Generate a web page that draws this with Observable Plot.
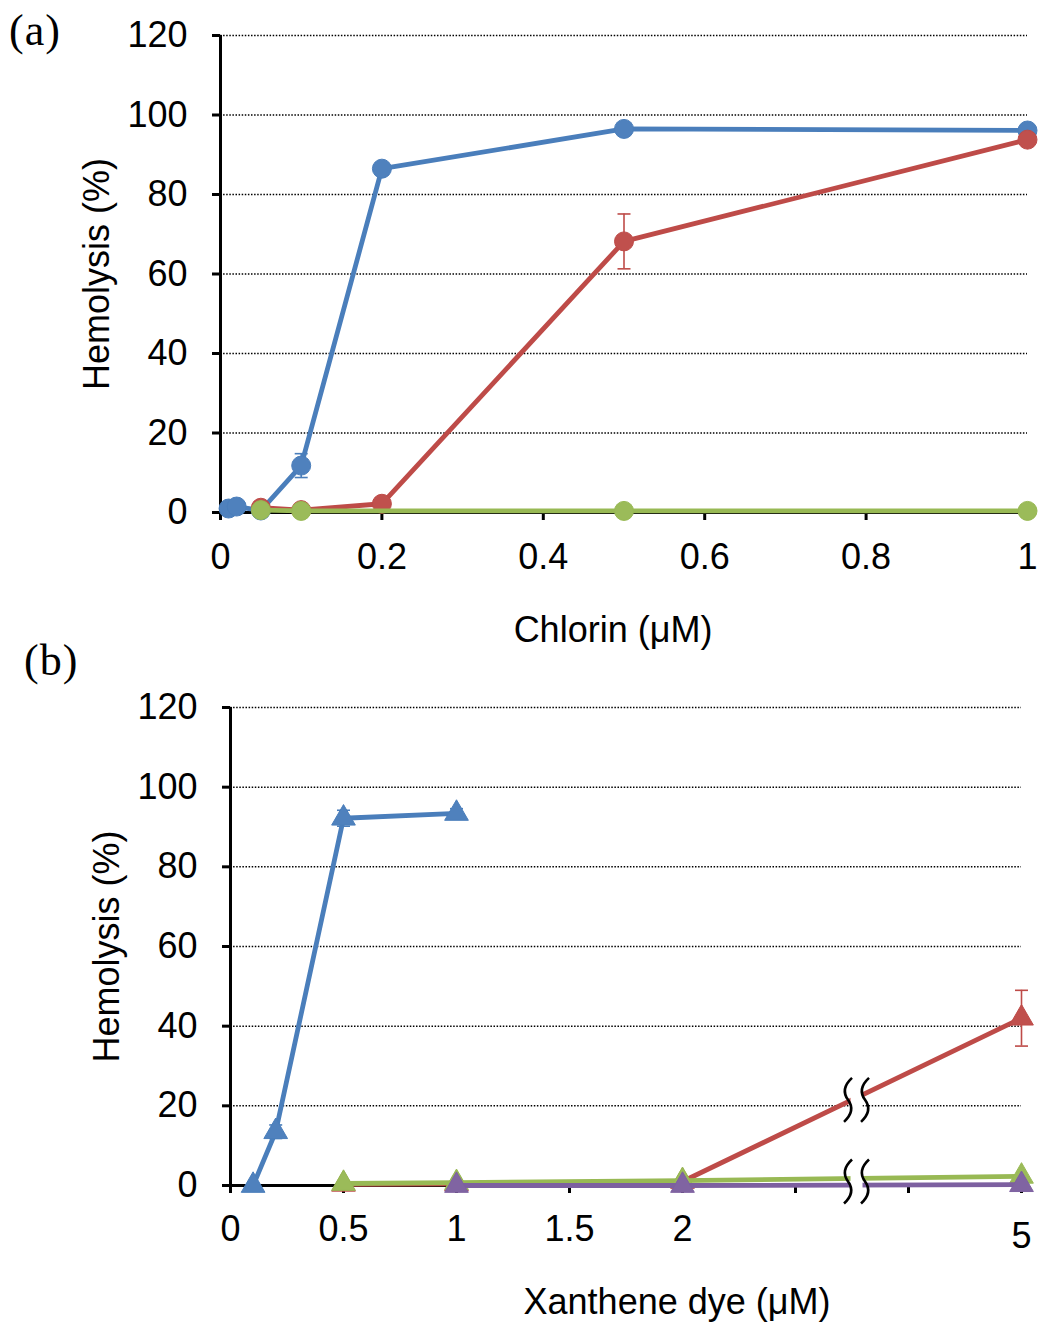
<!DOCTYPE html>
<html>
<head>
<meta charset="utf-8">
<script src="https://cdn.jsdelivr.net/npm/d3@7"></script>
<script src="https://cdn.jsdelivr.net/npm/@observablehq/plot@0.6"></script>
<style>
  body { margin: 0; background: #fff; }
  #wrap { position: relative; width: 1038px; height: 1324px; background: #fff; }
  .panel { position: absolute; left: 0; }
  .tag { position: absolute; font-family: "Liberation Serif", "DejaVu Serif", serif; font-size: 44px; line-height: 1; color: #000; letter-spacing: 1px; }
</style>
</head>
<body>
<div id="wrap">
  <div class="tag" style="left:9px; top:9px;">(a)</div>
  <div class="tag" style="left:24px; top:639px;">(b)</div>
  <div class="panel" id="pa" style="top:0px;"></div>
  <div class="panel" id="pb" style="top:655px;"></div>
</div>
<script>
// ---------- Panel (a): Chlorin ----------
const yTicks = [0, 20, 40, 60, 80, 100, 120];
const xTicksA = [0, 0.2, 0.4, 0.6, 0.8, 1];

const a_blue_x = [0.01, 0.02, 0.05, 0.1, 0.2, 0.5, 1];
const a_blue_y = [1.0, 1.5, 0.5, 11.8, 86.5, 96.5, 96.1];
const a_blue_e = [0, 0, 0, 3.0, 1.0, 0.8, 0.5];

const a_red_x = [0.05, 0.1, 0.2, 0.5, 1];
const a_red_y = [1.2, 0.6, 2.2, 68.2, 93.8];
const a_red_e = [0, 0, 0, 6.9, 0.8];

const a_green_x = [0.05, 0.1, 0.5, 1];
const a_green_y = [0.6, 0.4, 0.4, 0.4];
const a_green_e = [0, 0, 0, 0];

// ---------- Panel (b): Xanthene dye ----------
const xTicksB = [0, 0.5, 1, 1.5, 2, 2.5, 3, 3.5];      // axis positions (broken axis)
const xTickLabelsB = ["0", "0.5", "1", "1.5", "2", "", "", ""];
const lastDose = 5;                                   // dose drawn at the final tick
const lastDoseLabel = "5";

const b_blue_x = [0.1, 0.2, 0.5, 1];
const b_blue_y = [0, 13.5, 92.2, 93.4];
const b_blue_e = [0, 1.7, 2.0, 1.2];

const b_red_x = [0.5, 1, 2, 5];
const b_red_y = [0.3, 0.4, 1.0, 42];
const b_red_e = [0, 0, 0, 7];

const b_green_x = [0.5, 1, 2, 5];
const b_green_y = [0.5, 0.7, 1.2, 2.3];
const b_green_e = [0, 0, 0, 0];

const b_purple_x = [1, 2, 5];
const b_purple_y = [0, 0, 0.2];
const b_purple_e = [0, 0, 0];

const breakAt = 2.77;            // axis position of the break
const breakYs = [21.5, 1.0];     // values at which break marks are drawn

const COLORS = {
  blue:   {line: "#4A7EBB", fill: "#4F81BD"},
  red:    {line: "#BE4B48", fill: "#C0504D"},
  green:  {line: "#98B954", fill: "#9BBB59"},
  purple: {line: "#7D60A0", fill: "#8064A2"}
};

// dose -> position on the broken axis (values beyond 2 compressed so 5 sits at 3.5)
const pos = d => d <= 2 ? d : 2 + (d - 2) * 0.5;

const build = (xs, ys, es, name, mapX = x => x) =>
  xs.map((x, i) => ({x: mapX(x), y: ys[i], e: es[i], name}));

const capSymbol = {draw(ctx) { ctx.moveTo(-6.5, 0); ctx.lineTo(6.5, 0); }};
const waveFill = {draw(ctx) { ctx.rect(-6, -21, 12, 42); }};
const waveSymbol = {draw(ctx) {
  for (const ox of [-8.5, 8.5]) {
    ctx.moveTo(ox + 4, -22);
    ctx.quadraticCurveTo(ox - 8, -11, ox, 0);
    ctx.quadraticCurveTo(ox + 8, 11, ox - 4, 22);
  }
}};

function seriesMarks(data, color, symbol, r) {
  const errs = data.filter(d => d.e > 0);
  return [
    Plot.line(data, {x: "x", y: "y", stroke: color.line, strokeWidth: 4.8, strokeLinejoin: "round"}),
    Plot.ruleX(errs, {x: "x", y1: d => d.y - d.e, y2: d => d.y + d.e, stroke: color.line, strokeWidth: 1.6}),
    Plot.dot(errs, {x: "x", y: d => d.y + d.e, symbol: capSymbol, stroke: color.line, strokeWidth: 1.6}),
    Plot.dot(errs, {x: "x", y: d => d.y - d.e, symbol: capSymbol, stroke: color.line, strokeWidth: 1.6}),
    Plot.dot(data, {x: "x", y: "y", symbol, r, fill: color.fill, stroke: color.line, strokeWidth: 1})
  ];
}

const FONT = "'Liberation Sans', Arial, sans-serif";
const gridStyle = {stroke: "#000", strokeOpacity: 1, strokeWidth: 1.5, strokeDasharray: "1.5,1.6"};

// ----- Panel (a)
const dataA = [
  [build(a_blue_x, a_blue_y, a_blue_e, "blue"), COLORS.blue],
  [build(a_red_x, a_red_y, a_red_e, "red"), COLORS.red],
  [build(a_green_x, a_green_y, a_green_e, "green"), COLORS.green]
];

const plotA = Plot.plot({
  width: 1038, height: 655,
  marginLeft: 220, marginRight: 11, marginTop: 35, marginBottom: 143,
  style: {fontFamily: FONT, fontSize: "36px", background: "transparent", overflow: "visible", color: "#000"},
  x: {domain: [0, 1]},
  y: {domain: [0, 120]},
  marks: [
    Plot.gridY(yTicks.filter(v => v > 0), gridStyle),
    Plot.axisY(yTicks, {tickSize: 8, tickPadding: 25, strokeWidth: 3, fontSize: 36, label: null}),
    Plot.axisX(xTicksA, {tickSize: 8, tickPadding: 23, strokeWidth: 3, fontSize: 36, label: null, tickFormat: d => String(d)}),
    Plot.ruleX([0], {stroke: "#000", strokeWidth: 3}),
    Plot.ruleY([0], {stroke: "#000", strokeWidth: 3}),
    ...dataA.flatMap(([d, c]) => seriesMarks(d, c, "circle", 9.5)),
    Plot.text(["Hemolysis (%)"], {frameAnchor: "left", dx: -123, rotate: -90, fontSize: 36, textAnchor: "middle", lineAnchor: "middle"}),
    Plot.text(["Chlorin (μM)"], {frameAnchor: "bottom", dx: -11, dy: 118, fontSize: 36, lineAnchor: "middle"})
  ]
});
document.getElementById("pa").appendChild(plotA);

// ----- Panel (b)
const dataB = [
  [build(b_blue_x, b_blue_y, b_blue_e, "blue", pos), COLORS.blue],
  [build(b_red_x, b_red_y, b_red_e, "red", pos), COLORS.red],
  [build(b_green_x, b_green_y, b_green_e, "green", pos), COLORS.green],
  [build(b_purple_x, b_purple_y, b_purple_e, "purple", pos), COLORS.purple]
];

const breaks = breakYs.map(y => ({x: breakAt, y}));

const plotB = Plot.plot({
  width: 1038, height: 669,
  marginLeft: 230, marginRight: 17, marginTop: 52, marginBottom: 139,
  style: {fontFamily: FONT, fontSize: "36px", background: "transparent", overflow: "visible", color: "#000"},
  x: {domain: [0, 3.5]},
  y: {domain: [0, 120]},
  marks: [
    Plot.gridY(yTicks.filter(v => v > 0), gridStyle),
    Plot.axisY(yTicks, {tickSize: 8, tickPadding: 25, strokeWidth: 3, fontSize: 36, label: null}),
    Plot.axisX(xTicksB, {tickSize: 8, tickPadding: 22, strokeWidth: 3, fontSize: 36, label: null,
      tickFormat: d => xTickLabelsB[xTicksB.indexOf(d)]}),
    Plot.text([lastDoseLabel], {x: pos(lastDose), frameAnchor: "bottom", dy: 51, fontSize: 36, lineAnchor: "middle"}),
    Plot.ruleX([0], {stroke: "#000", strokeWidth: 3}),
    Plot.ruleY([0], {stroke: "#000", strokeWidth: 3}),
    ...dataB.flatMap(([d, c]) => seriesMarks(d, c, "triangle", 8.8)),
    Plot.dot(breaks, {x: "x", y: "y", symbol: waveFill, fill: "#fff", stroke: "none"}),
    Plot.dot(breaks, {x: "x", y: "y", symbol: waveSymbol, fill: "none", stroke: "#000", strokeWidth: 2.6}),
    Plot.text(["Hemolysis (%)"], {frameAnchor: "left", dx: -123, rotate: -90, fontSize: 36, textAnchor: "middle", lineAnchor: "middle"}),
    Plot.text(["Xanthene dye (μM)"], {frameAnchor: "bottom", dx: 51, dy: 117, fontSize: 36, lineAnchor: "middle"})
  ]
});
document.getElementById("pb").appendChild(plotB);
</script>
</body>
</html>
